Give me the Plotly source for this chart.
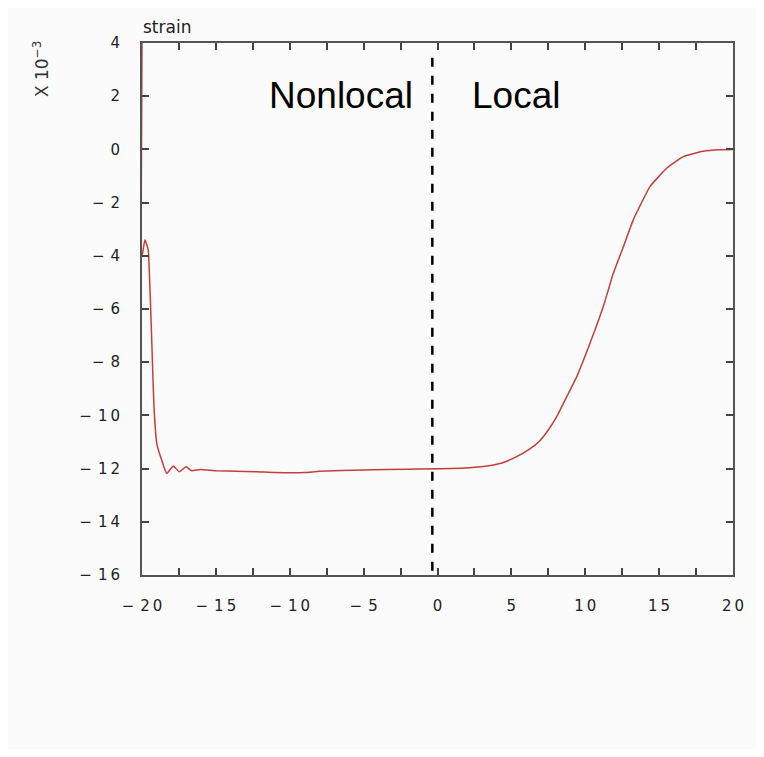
import plotly.graph_objects as go

# strain profile (units of 1e-3)
x_vals = [-20.0, -20.0, -19.8, -19.58, -19.5, -19.41, -19.32, -19.19, -19.0, -18.67, -18.33,
          -17.88, -17.48, -17.02, -16.64, -16.07, -14.95, -12.24, -11.0, -9.0, -8.0, -5.0,
          -2.0, 0.85, 3.1, 4.3, 5.36, 6.2, 6.93, 7.5, 8.07, 8.7, 9.42, 10.32, 11.22, 11.9,
          12.58, 13.25, 14.38, 15.51, 16.63, 17.98, 19.0, 20.0]
y_vals = [4.0, -4.03, -3.4, -3.78, -4.66, -6.04, -7.54, -9.67, -11.05, -11.68, -12.18,
          -11.9, -12.12, -11.93, -12.08, -12.03, -12.08, -12.12, -12.15, -12.15, -12.1, -12.05,
          -12.02, -12.0, -11.92, -11.8, -11.55, -11.28, -10.95, -10.55, -10.05, -9.35, -8.55,
          -7.29, -5.91, -4.66, -3.66, -2.65, -1.40, -0.71, -0.27, -0.07, -0.01, 0.0]

x_ticks = [-20, -15, -10, -5, 0, 5, 10, 15, 20]
x_minor = [-17.5, -12.5, -7.5, -2.5, 2.5, 7.5, 12.5, 17.5]
y_ticks = [4, 2, 0, -2, -4, -6, -8, -10, -12, -14, -16]
boundary_x = -0.35


def spaced(v):
    s = "\u2009".join(str(abs(v)))
    return ("\u2212\u2009\u2009" + s) if v < 0 else s


fig = go.Figure()
fig.add_trace(go.Scatter(x=x_vals, y=y_vals, mode="lines",
                         line=dict(color="#c0403c", width=1.5, shape="spline", smoothing=0.4),
                         showlegend=False, hoverinfo="skip", cliponaxis=True))

fig.add_shape(type="line", x0=boundary_x, x1=boundary_x, y0=3.45, y1=-16,
              line=dict(color="black", width=2.5, dash="dash"))

axis_common = dict(showline=True, linecolor="#555555", linewidth=2, mirror="ticks",
                   ticks="inside", ticklen=7, tickcolor="#444444", tickwidth=1.5,
                   showgrid=False, zeroline=False,
                   tickfont=dict(family="DejaVu Sans", size=15, color="#222222"))

fig.update_xaxes(range=[-20, 20], tickmode="array", tickvals=x_ticks,
                 ticktext=[spaced(v) for v in x_ticks],
                 minor=dict(tickmode="array", tickvals=x_minor, ticks="inside", ticklen=7,
                            tickcolor="#444444", tickwidth=1.5, showgrid=False),
                 ticklabelstandoff=16, **axis_common)
fig.update_yaxes(range=[-16, 4], tickmode="array", tickvals=y_ticks,
                 ticktext=[spaced(v) for v in y_ticks], ticklabelstandoff=17, **axis_common)

fig.add_annotation(x=-6.5, y=2.04, xref="x", yref="y", text="Nonlocal", showarrow=False,
                   font=dict(family="Liberation Sans, Arial", size=37, color="black"))
fig.add_annotation(x=5.3, y=2.04, xref="x", yref="y", text="Local", showarrow=False,
                   font=dict(family="Liberation Sans, Arial", size=37, color="black"))

# page offset of 8 px (body margin) is compensated in margins
W, H = 748, 741
ml, mr, mt, mb = 134, 23, 35, 174
pw, ph = W - ml - mr, H - mt - mb
OFF = 8


def px_to_paper(px, py):
    return (px - OFF - ml) / pw, (H - mb - (py - OFF)) / ph


sx, sy = px_to_paper(167, 27)
fig.add_annotation(x=sx, y=sy, xref="paper", yref="paper", xanchor="center", yanchor="middle",
                   text="strain", showarrow=False,
                   font=dict(family="DejaVu Sans", size=17, color="#222222"))
lx, ly = px_to_paper(41, 69)
fig.add_annotation(x=lx, y=ly, xref="paper", yref="paper", xanchor="center", yanchor="middle",
                   text="X 10<sup>\u22123</sup>", showarrow=False, textangle=-90,
                   font=dict(family="DejaVu Sans", size=17, color="#333333"))

fig.update_layout(width=W, height=H, margin=dict(l=ml, r=mr, t=mt, b=mb),
                  paper_bgcolor="#fbfbfb", plot_bgcolor="#fbfbfb")

fig.write_html("out.html")
